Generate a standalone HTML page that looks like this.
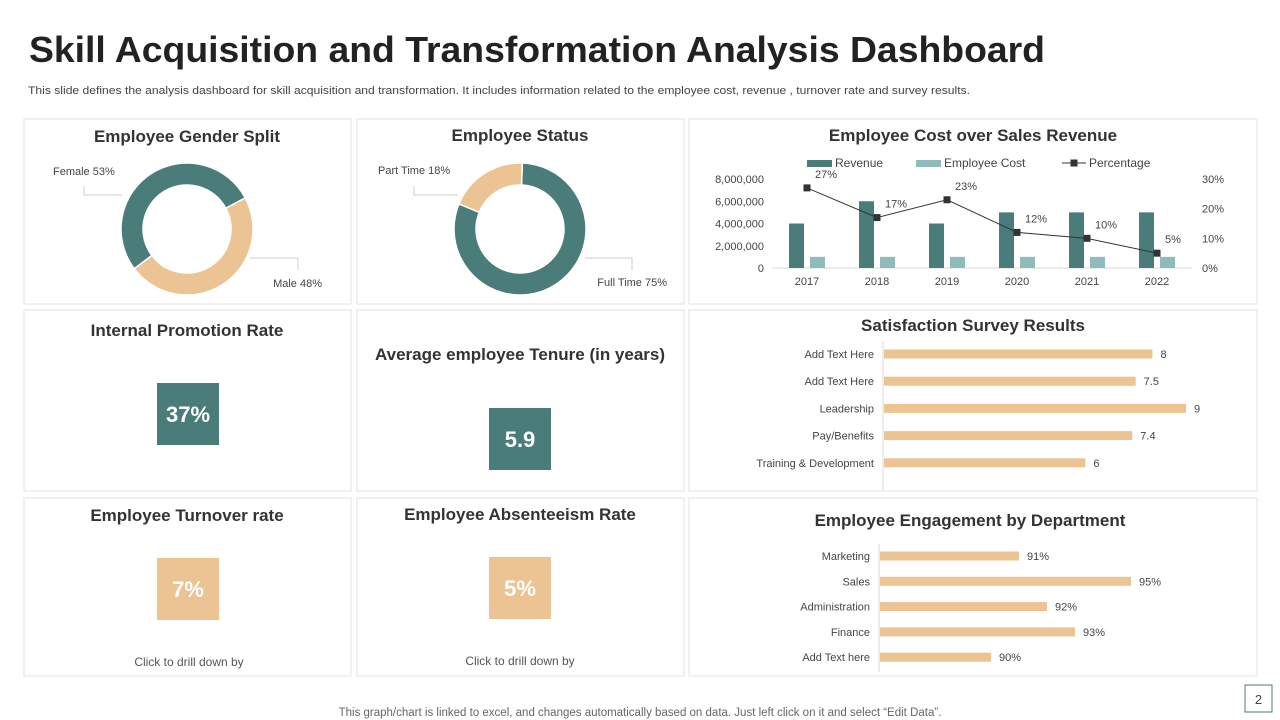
<!DOCTYPE html>
<html><head><meta charset="utf-8"><style>
html,body{margin:0;padding:0;background:#fff;}
svg{display:block;font-family:"Liberation Sans",Arial,sans-serif;}
</style></head><body>
<svg id="s" width="1280" height="720" viewBox="0 0 1280 720" xmlns="http://www.w3.org/2000/svg">
<text x="29" y="62" font-size="36" font-weight="bold" fill="#222" textLength="1016" lengthAdjust="spacingAndGlyphs">Skill Acquisition and Transformation Analysis Dashboard</text>
<text x="28" y="94" font-size="11" fill="#444" textLength="942" lengthAdjust="spacingAndGlyphs">This slide defines the  analysis dashboard for skill acquisition and transformation. It includes information related to the  employee cost, revenue , turnover rate and survey results.</text>
<g fill="#fff" stroke="#ececec" stroke-width="1.5">
<rect x="24" y="119" width="327" height="185"/>
<rect x="357" y="119" width="327" height="185"/>
<rect x="689" y="119" width="568" height="185"/>
<rect x="24" y="310" width="327" height="181"/>
<rect x="357" y="310" width="327" height="181"/>
<rect x="689" y="310" width="568" height="181"/>
<rect x="24" y="498" width="327" height="178"/>
<rect x="357" y="498" width="327" height="178"/>
<rect x="689" y="498" width="568" height="178"/>
</g>
<g font-size="17" font-weight="bold" fill="#333" text-anchor="middle">
<text x="187" y="142">Employee Gender Split</text>
<text x="520" y="141">Employee Status</text>
<text x="973" y="141">Employee Cost over Sales Revenue</text>
<text x="187" y="336">Internal Promotion Rate</text>
<text x="520" y="360">Average employee Tenure (in years)</text>
<text x="973" y="331">Satisfaction Survey Results</text>
<text x="187" y="521">Employee Turnover rate</text>
<text x="520" y="520">Employee Absenteeism Rate</text>
<text x="970" y="526">Employee Engagement by Department</text>
</g>
<rect x="157" y="383" width="62" height="62" fill="#4a7c7a"/>
<text x="188" y="422" font-size="22" font-weight="bold" fill="#fff" text-anchor="middle">37%</text>
<rect x="489" y="408" width="62" height="62" fill="#4a7c7a"/>
<text x="520" y="447" font-size="22" font-weight="bold" fill="#fff" text-anchor="middle">5.9</text>
<rect x="157" y="558" width="62" height="62" fill="#ecc392"/>
<text x="188" y="597" font-size="22" font-weight="bold" fill="#fff" text-anchor="middle">7%</text>
<rect x="489" y="557" width="62" height="62" fill="#ecc392"/>
<text x="520" y="596" font-size="22" font-weight="bold" fill="#fff" text-anchor="middle">5%</text>
<text x="189" y="666" font-size="12" fill="#555" text-anchor="middle">Click to drill down by</text>
<text x="520" y="665" font-size="12" fill="#555" text-anchor="middle">Click to drill down by</text>
<text x="640" y="716" font-size="11.5" fill="#666" text-anchor="middle">This graph/chart is linked to excel,  and changes automatically based on data. Just left click on it and select “Edit Data”.</text>
<rect x="1245" y="685" width="27" height="27" fill="#fff" stroke="#4a7c7a"/>
<text x="1258.5" y="704" font-size="13" fill="#444" text-anchor="middle">2</text>
<g id="dyn"></g>
</svg>
<script>
const genderLabels=["Female","Male"];
const genderValues=[53,48];
const statusLabels=["Full Time","Part Time"];
const statusValues=[75,18];
const years=["2017","2018","2019","2020","2021","2022"];
const revenue=[4000000,6000000,4000000,5000000,5000000,5000000];
const empCost=[1000000,1000000,1000000,1000000,1000000,1000000];
const percentage=[27,17,23,12,10,5];
const leftTicks=["0","2,000,000","4,000,000","6,000,000","8,000,000"];
const rightTicks=["0%","10%","20%","30%"];
const surveyCats=["Add Text Here","Add Text Here","Leadership","Pay/Benefits","Training & Development"];
const surveyVals=[8,7.5,9,7.4,6];
const engCats=["Marketing","Sales","Administration","Finance","Add Text here"];
const engVals=[91,95,92,93,90];

const NS="http://www.w3.org/2000/svg";
const g=document.getElementById('dyn');
const TEAL="#4a7c7a",LT="#8fbcbb",OR="#ecc392";
function mk(t,a,txt){const e=document.createElementNS(NS,t);for(const k in a)e.setAttribute(k,a[k]);if(txt!==undefined)e.textContent=txt;g.appendChild(e);return e;}
function arc(cx,cy,r0,r1,a0,a1){const p=(r,a)=>[cx+r*Math.sin(a*Math.PI/180),cy-r*Math.cos(a*Math.PI/180)];
 const L=(a1-a0)>180?1:0;const A=p(r1,a0),B=p(r1,a1),C=p(r0,a1),D=p(r0,a0);
 return `M${A}A${r1},${r1} 0 ${L} 1 ${B}L${C}A${r0},${r0} 0 ${L} 0 ${D}Z`;}
function donut(cx,cy,vals,colors,start,names){const tot=vals.reduce((a,b)=>a+b,0);let a=start;
 vals.forEach((v,i)=>{const s=v/tot*360;const e=mk('path',{d:arc(cx,cy,44,66,a,a+s),fill:colors[i],stroke:'#fff','stroke-width':1.5});
 
 
 a+=s;});}
// gender donut
donut(187,229,genderValues,[TEAL,OR],233,['female-slice','male-slice']);
// status donut
donut(520,229,statusValues,[TEAL,OR],2,['full-time-slice','part-time-slice']);
function label(x,y,txt,anchor,name){const e=mk('text',{x:x,y:y,'font-size':11,fill:'#444','text-anchor':anchor},txt);
 
 }
function leader(pts,name){const e=mk('polyline',{points:pts,fill:'none',stroke:'#ccc'});
 
 }
label(53,175,genderLabels[0]+" "+genderValues[0]+"%","start","female-label");
leader("122,195 84,195 84,186","female-leader");
label(322,287,genderLabels[1]+" "+genderValues[1]+"%","end","male-label");
leader("250,258 298,258 298,270","male-leader");
label(378,174,statusLabels[1]+" "+statusValues[1]+"%","start","part-time-label");
leader("458,195 414,195 414,186","part-time-leader");
label(667,286,statusLabels[0]+" "+statusValues[0]+"%","end","full-time-label");
leader("585,258 632,258 632,270","full-time-leader");

// cost chart
const y0=268,yTop=179,x0=807,dx=70;
const yL=v=>y0-(v/8000000)*(y0-yTop);
const yR=v=>y0-(v/30)*(y0-yTop);
const xC=i=>x0+i*dx;
leftTicks.forEach((t,i)=>{const e=mk('text',{x:764,y:yL(i*2000000)+4,'font-size':11,fill:'#444','text-anchor':'end'},t);
 
 });
rightTicks.forEach((t,i)=>{const e=mk('text',{x:1202,y:yR(i*10)+4,'font-size':11,fill:'#444'},t);
 
 });
const ax=mk('line',{x1:772,x2:1192,y1:y0,y2:y0,stroke:'#d9d9d9'});


years.forEach((yr,i)=>{
 const r=mk('rect',{x:xC(i)-18,y:yL(revenue[i]),width:15,height:y0-yL(revenue[i]),fill:TEAL});
 
 
 const c=mk('rect',{x:xC(i)+3,y:yL(empCost[i]),width:15,height:y0-yL(empCost[i]),fill:LT});
 
 
 const t=mk('text',{x:xC(i),y:285,'font-size':11,fill:'#444','text-anchor':'middle'},yr);
 
 
});
const ln=mk('polyline',{points:percentage.map((v,i)=>xC(i)+","+yR(v)).join(" "),fill:'none',stroke:'#333','stroke-width':1});


percentage.forEach((v,i)=>{
 const m=mk('rect',{x:xC(i)-3.5,y:yR(v)-3.5,width:7,height:7,fill:'#333'});
 
 
 const t=mk('text',{x:xC(i)+8,y:yR(v)-10,'font-size':11,fill:'#444'},v+"%");
 
 
});
// legend
let e;
e=mk('rect',{x:807,y:160,width:25,height:7,fill:TEAL});
e=mk('text',{x:835,y:167,'font-size':12,fill:'#444'},"Revenue");
e=mk('rect',{x:916,y:160,width:25,height:7,fill:LT});
e=mk('text',{x:944,y:167,'font-size':12,fill:'#444'},"Employee Cost");
e=mk('line',{x1:1062,x2:1086,y1:163,y2:163,stroke:'#333'});
e=mk('rect',{x:1070.5,y:159.5,width:7,height:7,fill:'#333'});
e=mk('text',{x:1089,y:167,'font-size':12,fill:'#444'},"Percentage");

// survey bars
const sx0=884,sScale=302/9,sY=[354,381,408,436,463];
e=mk('line',{x1:883,x2:883,y1:342,y2:490,stroke:'#d9d9d9'});
surveyCats.forEach((c,i)=>{const y=sY[0]+i*27.2;
 const b=mk('rect',{x:sx0,y:y-4.5,width:surveyVals[i]*sScale,height:9,fill:OR});
 
 
 const t=mk('text',{x:874,y:y+4,'font-size':11,fill:'#444','text-anchor':'end'},c);
 
 
 const v=mk('text',{x:sx0+surveyVals[i]*sScale+8,y:y+4,'font-size':11,fill:'#444'},String(surveyVals[i]));
 
 
});
// engagement bars
const ex0=879,eMin=86,eScale=28;
e=mk('line',{x1:879,x2:879,y1:544,y2:672,stroke:'#d9d9d9'});
engCats.forEach((c,i)=>{const y=556+i*25.3;const w=(engVals[i]-eMin)*eScale;
 const b=mk('rect',{x:ex0+1,y:y-4.5,width:w-1,height:9,fill:OR});
 
 
 const t=mk('text',{x:870,y:y+4,'font-size':11,fill:'#444','text-anchor':'end'},c);
 
 
 const v=mk('text',{x:ex0+w+8,y:y+4,'font-size':11,fill:'#444'},engVals[i]+"%");
 
 
});
</script>
</body></html>
